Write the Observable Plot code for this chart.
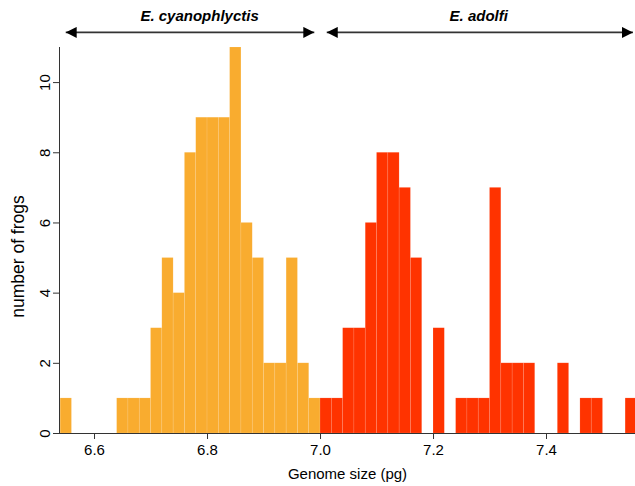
<!DOCTYPE html>
<html>
<head>
<meta charset="utf-8">
<script src="https://cdn.jsdelivr.net/npm/d3@7"></script>
<script src="https://cdn.jsdelivr.net/npm/@observablehq/plot@0.6"></script>
<style>
  html, body { margin: 0; padding: 0; background: #ffffff; }
  svg { display: block; }
</style>
</head>
<body>
<div id="chart"></div>
<script>
// Histogram bins (lower edge, pg) and counts
const binWidth = 0.02;
const cyanoEdges  = [6.54, 6.64, 6.66, 6.68, 6.70, 6.72, 6.74, 6.76, 6.78, 6.80, 6.82, 6.84, 6.86, 6.88, 6.90, 6.92, 6.94, 6.96, 6.98];
const cyanoCounts = [1,    1,    1,    1,    3,    5,    4,    8,    9,    9,    9,    11,   6,    5,    2,    2,    5,    2,    1];
const adolfiEdges  = [7.00, 7.02, 7.04, 7.06, 7.08, 7.10, 7.12, 7.14, 7.16, 7.20, 7.24, 7.26, 7.28, 7.30, 7.32, 7.34, 7.36, 7.42, 7.46, 7.48, 7.54];
const adolfiCounts = [1,    1,    3,    3,    6,    8,    8,    7,    5,    3,    1,    1,    1,    7,    2,    2,    2,    2,    1,    1,    1];

const speciesNames  = ["E. cyanophlyctis", "E. adolfi"];
const speciesColors = ["#F9AC2F", "#FF3300"];
const arrowStart = [6.549, 7.011];
const arrowEnd   = [6.989, 7.553];
const labelX     = [6.786, 7.28];
const arrowY = 11.43;
const labelY = 11.9;

const xTicks = [6.6, 6.8, 7.0, 7.2, 7.4];
const yTicks = [0, 2, 4, 6, 8, 10];
const xDomain = [6.538, 7.5575];
const yDomain = [0, 11];

const bars = [
  ...cyanoEdges.map((e, i) => ({x1: e, x2: e + binWidth, count: cyanoCounts[i], species: speciesNames[0]})),
  ...adolfiEdges.map((e, i) => ({x1: e, x2: e + binWidth, count: adolfiCounts[i], species: speciesNames[1]}))
];
const arrows = speciesNames.map((s, i) => ({species: s, x1: arrowStart[i], x2: arrowEnd[i], lx: labelX[i]}));

const chart = Plot.plot({
  width: 635,
  height: 486,
  marginLeft: 59,
  marginRight: 0,
  marginTop: 47,
  marginBottom: 53,
  style: {fontFamily: "'Liberation Sans', Arial, Helvetica, sans-serif", fontSize: "15px", background: "#ffffff", color: "#000"},
  x: {domain: xDomain},
  y: {domain: yDomain},
  color: {domain: speciesNames, range: speciesColors},
  marks: [
    Plot.rectY(bars, {x1: "x1", x2: "x2", y: "count", fill: "species", stroke: "#ffffff", strokeOpacity: 0.18, strokeWidth: 0.6, clip: true, inset: 0}),
    Plot.ruleY([0], {stroke: "#333"}),
    Plot.ruleX([xDomain[0]], {y1: yDomain[0], y2: yDomain[1], stroke: "#333"}),
    Plot.axisX({ticks: xTicks, tickSize: 6, tickPadding: 5, tickFormat: d3.format(".1f"), fontSize: 15,
      label: null, stroke: "#333"}),
    Plot.axisY({ticks: yTicks, tickSize: 6, tickPadding: 4, tickRotate: -90, fontSize: 15,
      label: null, stroke: "#333"}),
    Plot.link(arrows, {x1: "x1", x2: "x2", y1: () => arrowY, y2: () => arrowY, stroke: "#333", strokeWidth: 1.6}),
    Plot.text(arrows, {x: "lx", y: () => labelY, text: "species", fontSize: 15, fontWeight: "bold", fontStyle: "italic", fill: "#000"}),
    // axis titles
    Plot.text(["Genome size (pg)"], {frameAnchor: "bottom", dy: 45, fontSize: 15, fill: "#000"}),
    Plot.text(["number of frogs"], {frameAnchor: "left", textAnchor: "middle", dx: -41, dy: 16, rotate: -90, fontSize: 17.5, fill: "#000"})
  ]
});

// filled double-headed arrowheads
const ns = "http://www.w3.org/2000/svg";
const defs = document.createElementNS(ns, "defs");
const marker = document.createElementNS(ns, "marker");
marker.setAttribute("id", "tri-head");
marker.setAttribute("viewBox", "0 -5 10 10");
marker.setAttribute("refX", "10");
marker.setAttribute("refY", "0");
marker.setAttribute("markerWidth", "11");
marker.setAttribute("markerHeight", "11");
marker.setAttribute("markerUnits", "userSpaceOnUse");
marker.setAttribute("orient", "auto-start-reverse");
const mp = document.createElementNS(ns, "path");
mp.setAttribute("d", "M0,-5L10,0L0,5Z");
mp.setAttribute("fill", "#000");
mp.setAttribute("stroke", "none");
marker.appendChild(mp);
defs.appendChild(marker);
chart.insertBefore(defs, chart.firstChild);
chart.querySelectorAll('g[aria-label="link"] path, g[aria-label="link"] line').forEach(p => {
  p.setAttribute("marker-start", "url(#tri-head)");
  p.setAttribute("marker-end", "url(#tri-head)");
});

document.getElementById("chart").appendChild(chart);
</script>
</body>
</html>
